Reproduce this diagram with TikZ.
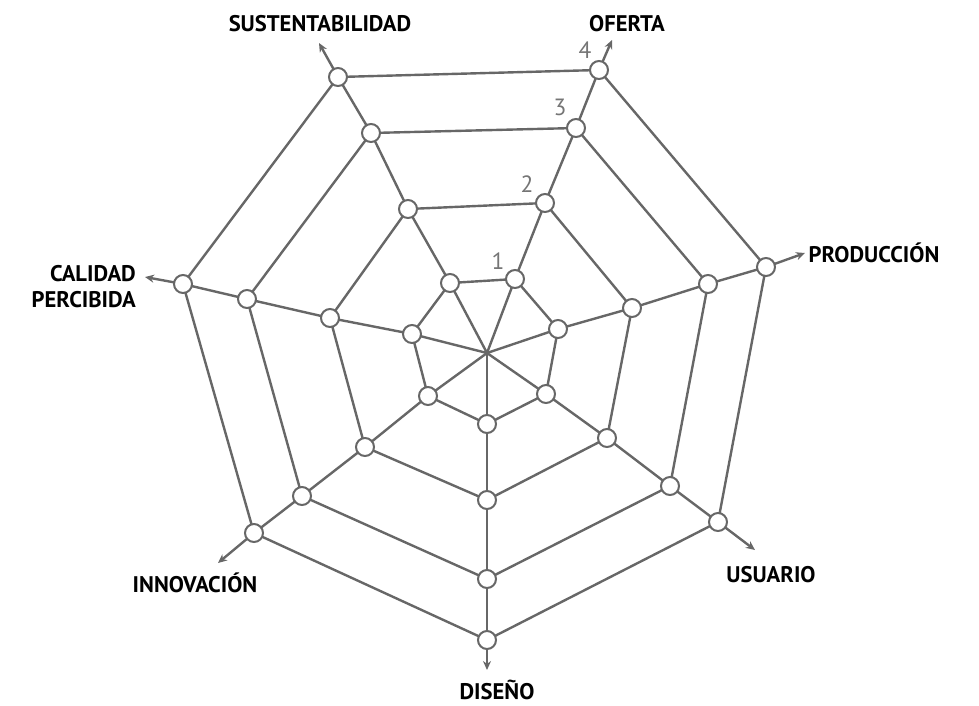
\documentclass[tikz,border=0pt]{standalone}
\usepackage{fontspec}
\setmainfont{PT Sans}
\usetikzlibrary{arrows.meta}
\definecolor{linegray}{HTML}{676767}
\definecolor{numgray}{HTML}{757575}
\tikzset{
  dot/.style={circle, draw=linegray, fill=white, line width=2pt, minimum size=18pt, inner sep=0pt},
  web/.style={draw=linegray, line width=2.4pt},
  axisarrow/.style={draw=linegray, line width=2.4pt, -{Stealth[length=9pt,width=8pt]}},
  axislabel/.style={font=\bfseries\fontsize{22.6}{26}\selectfont, text=black, inner sep=0pt, anchor=base},
  numlabel/.style={font=\fontsize{23.5}{27}\selectfont, text=numgray, inner sep=0pt, anchor=base}
}
\begin{document}
\begin{tikzpicture}[x=1pt,y=-1pt]
\useasboundingbox (0,0) rectangle (979,705);
\coordinate (ctr) at (487,353);
% axis tips
\coordinate (ot) at (612,40);
\coordinate (pt) at (805,253);
\coordinate (ut) at (755,550);
\coordinate (dt) at (487,670);
\coordinate (it) at (218,563);
\coordinate (ct) at (145,277);
\coordinate (st) at (319,43);
% node positions
\path
 (515,279) coordinate (o1p) (545,203) coordinate (o2p) (576,128) coordinate (o3p) (599,70) coordinate (o4p)
 (558,329) coordinate (p1p) (632,308) coordinate (p2p) (708,284) coordinate (p3p) (766,267) coordinate (p4p)
 (546,394) coordinate (u1p) (607,438) coordinate (u2p) (670,486) coordinate (u3p) (718,522) coordinate (u4p)
 (487,424) coordinate (d1p) (487,500) coordinate (d2p) (487,579) coordinate (d3p) (487,640) coordinate (d4p)
 (428,396) coordinate (i1p) (365,447) coordinate (i2p) (302,496) coordinate (i3p) (254,533) coordinate (i4p)
 (412,334) coordinate (c1p) (330,318) coordinate (c2p) (247,299) coordinate (c3p) (183,284) coordinate (c4p)
 (450,283) coordinate (s1p) (408,209) coordinate (s2p) (371,133) coordinate (s3p) (338,77) coordinate (s4p);
% lines (drawn first)
\foreach \a in {o,p,u,d,i,c,s}{
  \draw[web] (ctr) -- (\a1p) -- (\a2p) -- (\a3p) -- (\a4p);
  \draw[axisarrow] (\a4p) -- (\a t);
}
\foreach \k in {1,2,3,4}{
  \draw[web] (o\k p) -- (p\k p) -- (u\k p) -- (d\k p) -- (i\k p) -- (c\k p) -- (s\k p) -- cycle;
}
% circles
\foreach \a in {o,p,u,d,i,c,s}{
  \foreach \k in {1,2,3,4}{
    \node[dot] (\a\k) at (\a\k p) {};
  }
}
% scale numbers
\node[numlabel] (n1) at (498,269) {1};
\node[numlabel] (n2) at (527,192) {2};
\node[numlabel] (n3) at (560,115) {3};
\node[numlabel] (n4) at (585,58) {4};
% axis labels
\node[axislabel] (lS) at (320,31) {SUSTENTABILIDAD};
\node[axislabel] (lO) at (627,31) {OFERTA};
\node[axislabel] (lP) at (874,262) {PRODUCCIÓN};
\node[axislabel, anchor=base east] (lC1) at (136,281) {CALIDAD};
\node[axislabel, anchor=base east] (lC2) at (136,307) {PERCIBIDA};
\node[axislabel] (lU) at (771,582) {USUARIO};
\node[axislabel] (lI) at (195,592) {INNOVACIÓN};
\node[axislabel] (lD) at (497,699) {DISEÑO};
\end{tikzpicture}
\end{document}
